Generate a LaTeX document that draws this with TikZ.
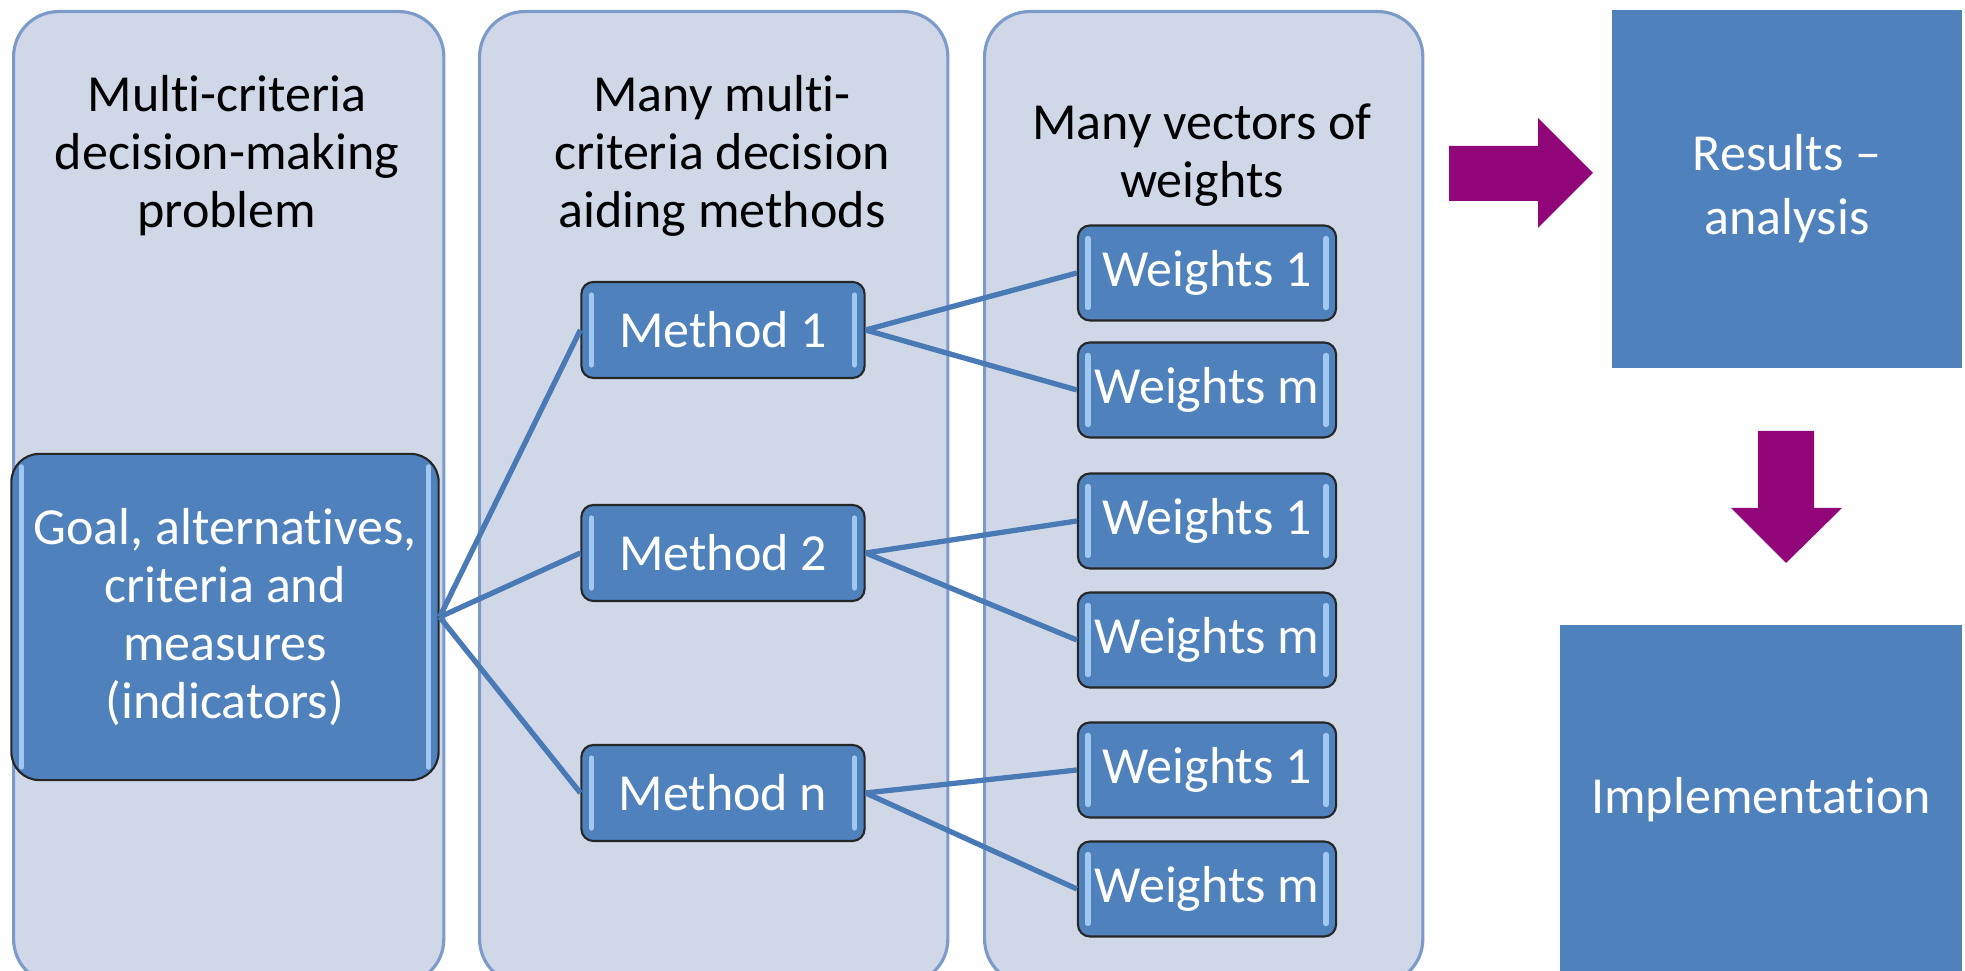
\documentclass[tikz,border=0pt]{standalone}
\usepackage{fontspec}
\setmainfont[Ligatures=TeX,RawFeature=-liga,RawFeature=-clig]{Carlito}
\usetikzlibrary{positioning,calc}
\definecolor{panelfill}{RGB}{208,216,232}
\definecolor{paneledge}{RGB}{124,155,203}
\definecolor{boxblue}{RGB}{79,129,189}
\definecolor{glint}{RGB}{160,200,240}
\definecolor{linkblue}{RGB}{74,122,182}
\definecolor{plum}{RGB}{145,7,122}
\newcommand\lblfont{\fontsize{14.8}{16.5}\selectfont}
\tikzset{
 panel/.style={draw=paneledge,fill=panelfill,line width=0.9pt,rounded corners=0.45cm,
               anchor=north west,minimum height=9.72cm},
 head/.style={align=center,font=\lblfont,text=black},
 glossy/.style={draw=black!85,line width=0.6pt,fill=boxblue,rounded corners=0.12cm,
                text=white,font=\lblfont,align=center,inner sep=0pt,
   path picture={
     \draw[glint,line width=1.5pt,line cap=round]
       ([xshift=0.1cm,yshift=-0.13cm]path picture bounding box.north west) --
       ([xshift=0.1cm,yshift=0.13cm]path picture bounding box.south west);
     \draw[glint,line width=1.5pt,line cap=round]
       ([xshift=-0.1cm,yshift=-0.13cm]path picture bounding box.north east) --
       ([xshift=-0.1cm,yshift=0.13cm]path picture bounding box.south east);
   }},
 method/.style={glossy,minimum width=2.83cm,minimum height=0.96cm},
 weights/.style={glossy,minimum width=2.58cm,minimum height=0.95cm},
 result/.style={fill=boxblue,text=white,align=center,inner sep=0pt,
                font=\fontsize{14.8}{18.2}\selectfont},
 link/.style={draw=linkblue,line width=1.5pt},
}

\begin{document}
\begin{tikzpicture}[x=0.01cm,y=-0.01cm]
\useasboundingbox (0,0) rectangle (1965,971);
% three columns
\node[panel,minimum width=4.30cm] (col1) at (12,10) {};
\node[panel,minimum width=4.68cm] (col2) at (478,10) {};
\node[panel,minimum width=4.38cm] (col3) at (983,10) {};
\node[head] (h1) at (227,156) {Multi-criteria\\decision-making\\problem};
\node[head] (h2) at (722,156) {Many multi-\\criteria decision\\aiding methods};
\node[head] (h3) at (1202,155) {Many vectors of\\weights};

% problem and methods
\node[glossy,rounded corners=0.28cm,minimum width=4.27cm,minimum height=3.26cm] (goal) at (225,617)
  {Goal, alternatives,\\criteria and\\measures\\(indicators)};
\node[method] (m1) at (723,330) {Method 1};
\node[method] (m2) at (723,553) {Method 2};
\node[method] (mn) at (723,793) {Method n};

% weight vectors
\node[weights] (w11) at (1207,273) {Weights 1};
\node[weights] (w1m) at (1207,390) {Weights m};
\node[weights] (w21) at (1207,521) {Weights 1};
\node[weights] (w2m) at (1207,640) {Weights m};
\node[weights] (w31) at (1207,770) {Weights 1};
\node[weights] (w3m) at (1207,889) {Weights m};

\draw[link] (goal.east) -- (m1.west);
\draw[link] (goal.east) -- (m2.west);
\draw[link] (goal.east) -- (mn.west);
\draw[link] (m1.east) -- (w11.west);
\draw[link] (m1.east) -- (w1m.west);
\draw[link] (m2.east) -- (w21.west);
\draw[link] (m2.east) -- (w2m.west);
\draw[link] (mn.east) -- (w31.west);
\draw[link] (mn.east) -- (w3m.west);

% outcome
\node[result,minimum width=3.50cm,minimum height=3.58cm] (res) at (1787,189) {Results --\\analysis};
\node[result,minimum width=4.01cm,minimum height=3.50cm] (impl) at (1761,800) {Implementation};
\fill[plum] (1449,146) -- (1538,146) -- (1538,118) -- (1593,173) -- (1538,228)
  -- (1538,201) -- (1449,201) -- cycle;
\fill[plum] (1758,431) -- (1814,431) -- (1814,508) -- (1842,508) -- (1786,563)
  -- (1731,508) -- (1758,508) -- cycle;
\end{tikzpicture}
\end{document}
